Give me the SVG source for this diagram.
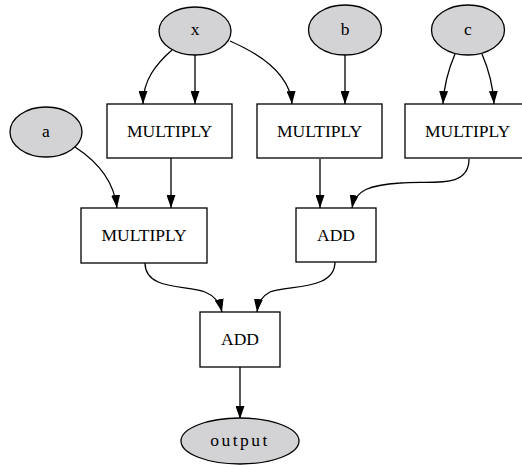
<svg xmlns="http://www.w3.org/2000/svg" width="522" height="465" viewBox="0 0 522 465">
<style>
.n ellipse{fill:#d3d3d6;stroke:#000;stroke-width:1.3}
.n rect{fill:#fff;stroke:#000;stroke-width:1.3}
text{font-family:"Liberation Serif","Times New Roman",serif;font-size:17.5px;fill:#000;text-anchor:middle}
.e path{fill:none;stroke:#000;stroke-width:1.3;marker-end:url(#ah)}
</style>
<defs>
<marker id="ah" viewBox="0 0 13 9" refX="13" refY="4.5" markerWidth="13" markerHeight="9" markerUnits="userSpaceOnUse" orient="auto">
<polygon points="0,0 13,4.5 0,9" fill="#000"/>
</marker>
</defs>
<rect width="522" height="465" fill="#fff"/>
<g class="e" id="edges">
<path d="M172,50 C156,64 143,80 143,104"/>
<path d="M195,55 L195,104"/>
<path d="M230,41 C262,55 290,75 292,104"/>
<path d="M345,55 L345,104"/>
<path d="M455,54 C449,68 444,84 443,104"/>
<path d="M482,54 C488,68 493,84 494,104"/>
<path d="M75,147 C95,160 114,180 117,208"/>
<path d="M171,158 L171,208"/>
<path d="M320,159 L320,208"/>
<path d="M469,159 C469,190 430,180 400,183 C370,185 355,190 352,208"/>
<path d="M145,263 C145,290 185,285 205,292 C215,296 220,303 222,312"/>
<path d="M335,262 C335,290 290,285 270,292 C262,296 258,303 257,312"/>
<path d="M240,367 L240,419"/>
</g>
<g class="n" id="x"><ellipse cx="195" cy="31" rx="36" ry="24"/><text x="195" y="35">x</text></g>
<g class="n" id="b"><ellipse cx="345" cy="30" rx="36.5" ry="25"/><text x="345" y="35">b</text></g>
<g class="n" id="c"><ellipse cx="468" cy="30" rx="36.5" ry="25"/><text x="468" y="35">c</text></g>
<g class="n" id="a"><ellipse cx="46" cy="132" rx="36" ry="25"/><text x="46" y="137">a</text></g>
<g class="n" id="mul1"><rect x="107" y="104" width="125" height="54"/><text x="169.5" y="137">MULTIPLY</text></g>
<g class="n" id="mul2"><rect x="257" y="104" width="125" height="54"/><text x="319.5" y="137">MULTIPLY</text></g>
<g class="n" id="mul3"><rect x="405" y="104" width="125" height="54"/><text x="467.5" y="137">MULTIPLY</text></g>
<g class="n" id="mul4"><rect x="81" y="208" width="126" height="55"/><text x="144" y="241">MULTIPLY</text></g>
<g class="n" id="add1"><rect x="296" y="208" width="80" height="54"/><text x="336" y="241">ADD</text></g>
<g class="n" id="add2"><rect x="200" y="312" width="80" height="55"/><text x="240" y="345">ADD</text></g>
<g class="n" id="output"><ellipse cx="240" cy="441" rx="59" ry="23"/><text x="240" y="446" letter-spacing="2.5">output</text></g>
</svg>
